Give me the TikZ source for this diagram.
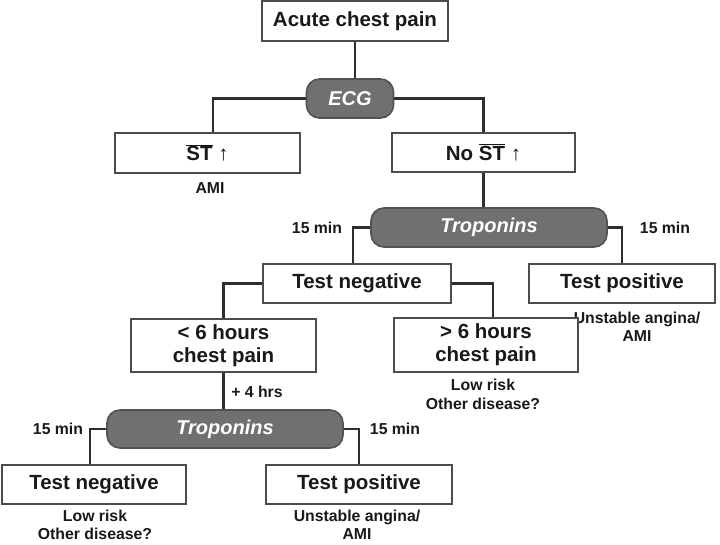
\documentclass[tikz,border=0pt]{standalone}
\usepackage{fontspec}
\setmainfont{Liberation Sans}
\begin{document}
\begin{tikzpicture}[x=1pt,y=-1pt,
  box/.style={draw=black!70, line width=1.6pt, fill=white, text=black!90,
    font=\fontsize{20.5}{23}\selectfont\bfseries, align=center, inner sep=0pt},
  pill/.style={draw=black!68, line width=1.6pt, fill=black!56, rounded corners=13pt,
    text=white, font=\fontsize{20}{23}\selectfont\bfseries\itshape, inner sep=0pt},
  lbl/.style={text=black!90, font=\fontsize{15.8}{18.5}\selectfont\bfseries, align=center, inner sep=0pt},
  conn/.style={draw=black!82, line width=2.3pt}]
\useasboundingbox (0,0) rectangle (720,544);
\fill[white] (0,0) rectangle (720,544);
\node[box, minimum width=186pt, minimum height=40pt] (top) at (355,21) {Acute chest pain};
\node[pill, minimum width=87pt, minimum height=39pt] (ecg) at (350,98.5) {ECG};
\node[box, minimum width=185pt, minimum height=40pt] (st) at (207.5,153) {$\overline{\mbox{ST}}$ \normalfont\fontsize{20.5}{23}\selectfont ↑};
\node[box, minimum width=183pt, minimum height=39pt] (nost) at (483.5,152.5) {No $\overline{\mbox{ST}}$ \normalfont\fontsize{20.5}{23}\selectfont ↑};
\node[lbl] (ami1) at (210,188) {AMI};
\node[pill, minimum width=236pt, minimum height=39pt] (trop1) at (489,227.5) {Troponins};
\node[lbl] (m1) at (317,228) {15 min};
\node[lbl] (m2) at (665,228) {15 min};
\node[box, minimum width=188pt, minimum height=39pt] (neg1) at (357,283.5) {Test negative};
\node[box, minimum width=186pt, minimum height=39pt] (pos1) at (622,283.5) {Test positive};
\node[lbl] (pos1l) at (637,327) {Unstable angina/\\AMI};
\node[box, minimum width=185pt, minimum height=53pt] (lt6) at (223.5,345.5) {< 6 hours\\chest pain};
\node[box, minimum width=184pt, minimum height=54pt] (gt6) at (486,345) {> 6 hours\\chest pain};
\node[lbl] (gt6l) at (483,394.5) {Low risk\\Other disease?};
\node[lbl] (plus4) at (257,392) {+ 4 hrs};
\node[pill, minimum width=236pt, minimum height=38pt] (trop2) at (225,429) {Troponins};
\node[lbl] (m3) at (58,429) {15 min};
\node[lbl] (m4) at (395,429) {15 min};
\node[box, minimum width=184pt, minimum height=39pt] (neg2) at (94,484.5) {Test negative};
\node[box, minimum width=186pt, minimum height=39pt] (pos2) at (359,484.5) {Test positive};
\node[lbl] (neg2l) at (95,525) {Low risk\\Other disease?};
\node[lbl] (pos2l) at (357,525) {Unstable angina/\\AMI};
% connectors
\draw[conn] (top.south) -- (top.south |- ecg.north);
\draw[conn] (ecg.west) -| ([xshift=5.5pt]st.north);
\draw[conn] (ecg.east) -| (nost.north);
\draw[conn] (nost.south) -- (nost.south |- trop1.north);
\draw[conn] (trop1.west) -| ([xshift=-4pt]neg1.north);
\draw[conn] (trop1.east) -| (pos1.north);
\draw[conn] (neg1.west) -| (lt6.north);
\draw[conn] (neg1.east) -| ([xshift=7pt]gt6.north);
\draw[conn] (lt6.south) -- (lt6.south |- trop2.north);
\draw[conn] (trop2.west) -| ([xshift=-4pt]neg2.north);
\draw[conn] (trop2.east) -| (pos2.north);
\end{tikzpicture}
\end{document}
